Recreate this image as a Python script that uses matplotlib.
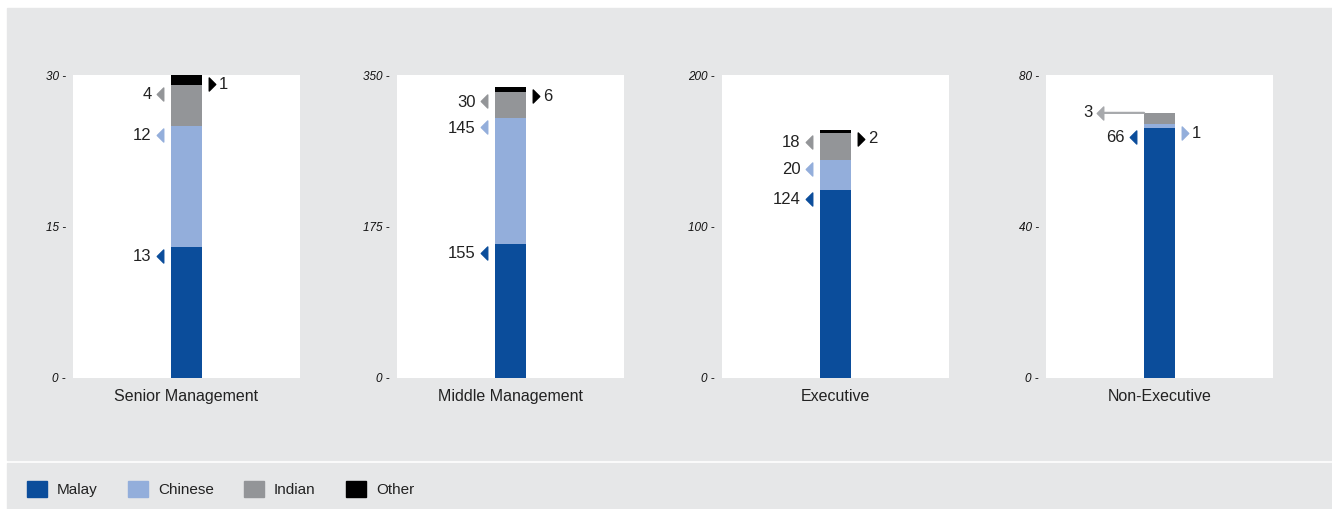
import matplotlib
matplotlib.use("Agg")
import matplotlib.pyplot as plt
from matplotlib.patches import Rectangle, Patch
from matplotlib.path import Path
from matplotlib.transforms import offset_copy

# data
categories = ["Senior Management", "Middle Management", "Executive", "Non-Executive"]
malay = [13, 155, 124, 66]
chinese = [12, 145, 20, 1]
indian = [4, 30, 18, 3]
other = [1, 6, 2, 0]
axis_max = [30, 350, 200, 80]

series_names = ["Malay", "Chinese", "Indian", "Other"]
colors = ["#0b4d9b", "#93aedb", "#939598", "#000000"]

# which side each value label sits on ("L", "R", "LL" = left with leader line)
label_side = [
    ["L", "L", "L", "R"],
    ["L", "L", "L", "R"],
    ["L", "L", "L", "R"],
    ["L", "R", "LL", None],
]

plt.rcParams["font.family"] = ["Liberation Sans Narrow", "Liberation Sans", "DejaVu Sans"]

W, H = 1332, 509
fig = plt.figure(figsize=(W / 100, H / 100), dpi=100, facecolor="white")

def px(x0, y0, x1, y1):
    # pixel box (top-left origin) -> figure fraction
    return [x0 / W, 1 - y1 / H, (x1 - x0) / W, (y1 - y0) / H]

bg = "#e6e7e8"
fig.patches.append(Rectangle((7 / W, 1 - 460 / H), (W - 7) / W, 452 / H,
                             transform=fig.transFigure, color=bg, zorder=-5))
fig.patches.append(Rectangle((7 / W, 0), (W - 7) / W, 46 / H,
                             transform=fig.transFigure, color=bg, zorder=-5))

left_edges = [73, 397, 722, 1046]
panel_w = 227
bar_w = 31 / panel_w

tri_left = Path([(0.5, 1), (-0.5, 0), (0.5, -1), (0.5, 1)], closed=True)
tri_right = Path([(-0.5, 1), (0.5, 0), (-0.5, -1), (-0.5, 1)], closed=True)

for i, cat in enumerate(categories):
    ax = fig.add_axes(px(left_edges[i], 75, left_edges[i] + panel_w, 378))
    ax.set_facecolor("white")
    for s in ax.spines.values():
        s.set_visible(False)
    ax.set_xlim(-0.5, 0.5)
    ax.set_ylim(0, axis_max[i])
    ticks = [0, axis_max[i] / 2, axis_max[i]]
    ax.set_yticks(ticks)
    ax.set_yticklabels([f"{t:g} -" for t in ticks], fontstyle="italic", fontsize=8.5,
                       color="#111111")
    ax.tick_params(axis="y", length=0, pad=5)
    ax.set_xticks([0])
    ax.set_xticklabels([cat], fontsize=11.5, color="#222222")
    ax.tick_params(axis="x", length=0, pad=8)

    vals = [malay[i], chinese[i], indian[i], other[i]]
    bottom = 0
    for j, v in enumerate(vals):
        if v > 0:
            ax.bar(0, v, bottom=bottom, width=bar_w, color=colors[j], zorder=2)
        top = bottom + v
        side = label_side[i][j]
        if side == "L":
            tr = offset_copy(ax.transData, fig=fig, x=-11, y=-9, units="dots")
            ax.plot(-bar_w / 2, top, marker=tri_left, ms=9.4, color=colors[j],
                    transform=tr, clip_on=False, zorder=3)
            ax.annotate(str(v), (-bar_w / 2, top), xytext=(-14, -7),
                        textcoords="offset points", ha="right", va="center",
                        fontsize=12, color="#222222")
        elif side == "R":
            tr = offset_copy(ax.transData, fig=fig, x=10, y=-9, units="dots")
            ax.plot(bar_w / 2, top, marker=tri_right, ms=9.4, color=colors[j],
                    transform=tr, clip_on=False, zorder=3)
            ax.annotate(str(v), (bar_w / 2, top), xytext=(12, -6.5),
                        textcoords="offset points", ha="left", va="center",
                        fontsize=12, color="#222222")
        elif side == "LL":
            tr = offset_copy(ax.transData, fig=fig, x=-44, y=0, units="dots")
            ax.annotate("", xy=(-bar_w / 2, top), xytext=(-29, 0),
                        textcoords="offset points",
                        arrowprops=dict(arrowstyle="-", color="#a7a9ac", lw=1.6,
                                        shrinkA=0, shrinkB=0))
            ax.plot(-bar_w / 2, top, marker=tri_left, ms=9.4, color="#a7a9ac",
                    transform=tr, clip_on=False, zorder=3)
            ax.annotate(str(v), (-bar_w / 2, top), xytext=(-37, 0),
                        textcoords="offset points", ha="right", va="center",
                        fontsize=12, color="#222222")
        bottom = top

handles = [Patch(facecolor=c, edgecolor=c) for c in colors]
fig.legend(handles, series_names, loc="center left",
           bbox_to_anchor=(27 / W, 1 - 489 / H), ncol=4, frameon=False,
           fontsize=11, handlelength=1.3, handleheight=1.2, handletextpad=0.65,
           columnspacing=2.0, labelcolor="#222222", borderpad=0, borderaxespad=0)

fig.savefig("out.png", dpi=100, facecolor="white")
